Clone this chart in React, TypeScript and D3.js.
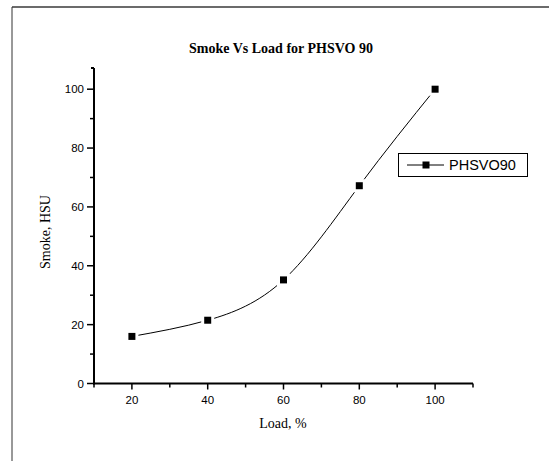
import React from 'react';
import * as d3 from 'd3';

const loads = [20, 40, 60, 80, 100];
const smoke = [16, 21.5, 35.2, 67.2, 100];
const xTicks = [20, 40, 60, 80, 100];
const xMinor = [10, 30, 50, 70, 90, 110];
const yTicks = [0, 20, 40, 60, 80, 100];
const yMinor = [10, 30, 50, 70, 90];
const seriesName = 'PHSVO90';

const W = 549;
const H = 461;
const plot = { left: 94, right: 473, top: 68, bottom: 383.5 };

const App = () => {
    const x = d3.scaleLinear().domain([10, 110]).range([plot.left, plot.right]);
    const y = d3.scaleLinear().domain([0, 107.2]).range([plot.bottom, plot.top]);

    const points = loads.map((l, i) => ({ load: l, value: smoke[i] }));

    const line = d3.line<{ load: number; value: number }>()
        .x(d => x(d.load))
        .y(d => y(d.value))
        .curve(d3.curveNatural);

    const sans = "'Liberation Sans', Arial, sans-serif";
    const serif = "'Liberation Serif', 'Times New Roman', serif";

    return (
        <svg width={W} height={H} style={{ position: 'absolute', left: 0, top: 0, background: '#fff' }}>
            {/* page frame */}
            <line x1={12} y1={7} x2={W} y2={7} stroke="#6b6b6b" strokeWidth={2} />
            <line x1={12} y1={7} x2={12} y2={H} stroke="#333" strokeWidth={1} />

            <text x={281} y={53} textAnchor="middle" fontFamily={serif} fontWeight="bold" fontSize={14}>
                Smoke Vs Load for PHSVO 90
            </text>

            {/* y axis */}
            <line x1={plot.left} y1={plot.top} x2={plot.left} y2={plot.bottom + 1} stroke="#000" strokeWidth={2} />
            <line x1={plot.left} y1={plot.top} x2={plot.left - 3} y2={plot.top} stroke="#000" strokeWidth={2} />
            {yTicks.map(t => (
                <g key={'yt' + t}>
                    <line x1={plot.left - 7} x2={plot.left} y1={y(t)} y2={y(t)} stroke="#000" strokeWidth={1.5} />
                    <text x={plot.left - 10} y={y(t) + 4.2} textAnchor="end" fontFamily={sans} fontSize={11.5}>{t}</text>
                </g>
            ))}
            {yMinor.map(t => (
                <line key={'ym' + t} x1={plot.left - 4} x2={plot.left} y1={y(t)} y2={y(t)} stroke="#000" strokeWidth={1.5} />
            ))}

            {/* x axis */}
            <line x1={plot.left - 1} y1={plot.bottom} x2={plot.right} y2={plot.bottom} stroke="#000" strokeWidth={2} />
            {xTicks.map(t => (
                <g key={'xt' + t}>
                    <line x1={x(t)} x2={x(t)} y1={plot.bottom} y2={plot.bottom + 6} stroke="#000" strokeWidth={1.5} />
                    <text x={x(t)} y={plot.bottom + 20} textAnchor="middle" fontFamily={sans} fontSize={11.5}>{t}</text>
                </g>
            ))}
            {xMinor.map(t => (
                <line key={'xm' + t} x1={x(t)} x2={x(t)} y1={plot.bottom} y2={plot.bottom + 4} stroke="#000" strokeWidth={1.5} />
            ))}

            <text x={283} y={428} textAnchor="middle" fontFamily={serif} fontSize={14}>Load, %</text>
            <text transform={`translate(50,232) rotate(-90)`} textAnchor="middle" fontFamily={serif} fontSize={14}>
                Smoke, HSU
            </text>

            {/* series */}
            <path d={line(points) || ''} fill="none" stroke="#000" strokeWidth={1} />
            {points.map((p, i) => (
                <g key={'p' + i}>
                    <rect x={x(p.load) - 6.5} y={y(p.value) - 6.5} width={13} height={13} fill="#fff" />
                    <rect x={x(p.load) - 3.5} y={y(p.value) - 3.5} width={7} height={7} fill="#000" />
                </g>
            ))}

            {/* legend */}
            <rect x={398.5} y={153.5} width={129} height={23} fill="#fff" stroke="#000" strokeWidth={1} />
            <line x1={407} x2={444} y1={165} y2={165} stroke="#000" strokeWidth={1} />
            <rect x={422.5} y={161.5} width={7} height={7} fill="#000" />
            <text x={449} y={170.3} fontFamily={sans} fontSize={14.5}>{seriesName}</text>
        </svg>
    );
};

export default App;
